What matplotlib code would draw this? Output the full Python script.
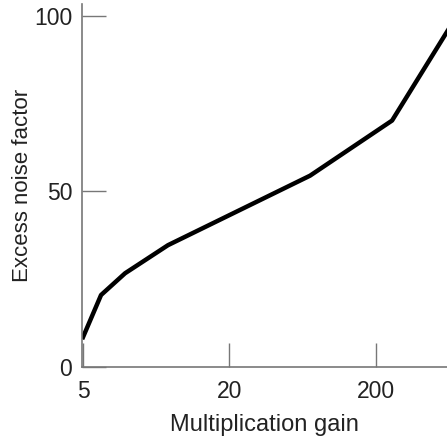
import matplotlib.pyplot as plt

plt.rcParams['font.family'] = ['Liberation Sans', 'DejaVu Sans']

# curve; x is position on the (evenly spaced) gain axis
x_pos = [0.0, 0.123, 0.287, 0.58, 1.55, 2.11, 2.5]
noise = [8.5, 20.5, 26.7, 34.7, 54.5, 70.2, 96.5]

x_ticks = [0, 1, 2]
x_labels = ['5', '20', '200']
y_ticks = [0, 50, 100]

fig = plt.figure(figsize=(4.47, 4.38), dpi=100)
ax = fig.add_axes([82 / 447, 1 - 367 / 438, 1 - 82 / 447, 363 / 438])

ax.plot(x_pos, noise, color='black', lw=3.2, solid_joinstyle='round')

ax.set_xlim(-0.007, 2.485)
ax.set_ylim(0, 103.4)
ax.set_xticks(x_ticks)
ax.set_xticklabels(x_labels)
ax.set_yticks(y_ticks)

for s in ['top', 'right']:
    ax.spines[s].set_visible(False)
for s in ['left', 'bottom']:
    ax.spines[s].set_color('#777777')
    ax.spines[s].set_linewidth(1.2)

ax.tick_params(axis='both', direction='in', length=17, width=1, color='#777777',
               labelsize=16.5, labelcolor='#222222')
ax.tick_params(axis='x', pad=9)
ax.tick_params(axis='y', pad=7)

ax.set_xlabel('Multiplication gain', fontsize=17, labelpad=8, color='#222222')
ax.set_ylabel('Excess noise factor', fontsize=16, labelpad=1, color='#222222')

fig.savefig('out.png', dpi=100)
